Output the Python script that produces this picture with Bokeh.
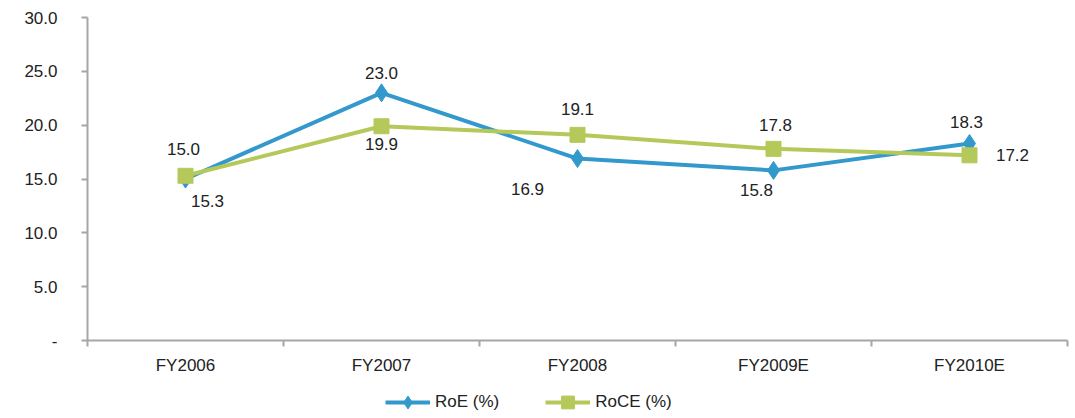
from bokeh.plotting import figure
from bokeh.layouts import column
from bokeh.models import ColumnDataSource, FixedTicker, Range1d, Legend, LegendItem
from bokeh.embed import file_html
from bokeh.resources import INLINE
from bokeh.core.properties import value

categories = ["FY2006", "FY2007", "FY2008", "FY2009E", "FY2010E"]
roe = [15.0, 23.0, 16.9, 15.8, 18.3]
roce = [15.3, 19.9, 19.1, 17.8, 17.2]
y_ticks = [0, 5, 10, 15, 20, 25, 30]

# label offsets (pixels, screen direction): style only
roe_dx = [-2, 0, -50, -17, -3]
roe_dy = [-30, -20, 30, 20, -21]
roce_dx = [22, 0, 0, 2, 43]
roce_dy = [25, 18, -26, -24, 0]

BLUE = "#3399CC"
GREEN = "#B5C95A"
AXIS = "#A6A6A6"
TXT = "#222222"
FONT = "Liberation Sans"
FS = "17px"

xs = [i + 0.5 for i in range(len(categories))]

p = figure(width=1075, height=380, output_backend="svg", toolbar_location=None,
           x_range=Range1d(0, len(categories)), y_range=Range1d(0, 30),
           min_border_left=87, min_border_right=8, min_border_top=17,
           min_border_bottom=40)
p.outline_line_color = None
p.xgrid.grid_line_color = None
p.ygrid.grid_line_color = None

s_roe = ColumnDataSource(dict(x=xs, y=roe, t=["%.1f" % v for v in roe], dx=roe_dx, dy=roe_dy))
s_roce = ColumnDataSource(dict(x=xs, y=roce, t=["%.1f" % v for v in roce], dx=roce_dx, dy=roce_dy))

p.line("x", "y", source=s_roe, line_color=BLUE, line_width=4)
p.scatter("x", "y", source=s_roe, marker="diamond", size=18, fill_color=BLUE, line_color=BLUE)
p.line("x", "y", source=s_roce, line_color=GREEN, line_width=4)
p.scatter("x", "y", source=s_roce, marker="square", size=15, fill_color=GREEN, line_color=GREEN)

for s in (s_roe, s_roce):
    p.text("x", "y", text="t", source=s, x_offset="dx", y_offset="dy",
           text_align="center", text_baseline="middle", text_font=value(FONT),
           text_font_size=FS, text_color=TXT)

ya = p.yaxis[0]
ya.ticker = FixedTicker(ticks=y_ticks)
ya.major_label_overrides = {t: ("-" if t == 0 else "%.1f" % t) for t in y_ticks}
ya.minor_tick_line_color = None
ya.major_tick_out = 6
ya.major_tick_in = 0
ya.axis_line_color = AXIS
ya.axis_line_width = 2
ya.major_tick_line_color = AXIS
ya.major_tick_line_width = 2
ya.major_label_text_font = FONT
ya.major_label_text_font_size = FS
ya.major_label_text_color = TXT
ya.major_label_standoff = 24

xa = p.xaxis[0]
xa.ticker = FixedTicker(ticks=xs, minor_ticks=list(range(len(categories) + 1)))
xa.major_label_overrides = {x: c for x, c in zip(xs, categories)}
xa.major_tick_line_color = None
xa.minor_tick_out = 6
xa.minor_tick_in = 0
xa.minor_tick_line_color = AXIS
xa.minor_tick_line_width = 2
xa.axis_line_color = AXIS
xa.axis_line_width = 2
xa.major_label_text_font = FONT
xa.major_label_text_font_size = FS
xa.major_label_text_color = TXT
xa.major_label_standoff = 9

# legend strip below the chart (series drawn out of view; only legend shows)
q = figure(width=1075, height=38, output_backend="svg", toolbar_location=None,
           x_range=Range1d(-3, -2), y_range=Range1d(-3, -2),
           min_border=0)
q.axis.visible = False
q.grid.visible = False
q.outline_line_color = None
ql1 = q.line("x", "y", source=s_roe, line_color=BLUE, line_width=4)
qm1 = q.scatter("x", "y", source=s_roe, marker="diamond", size=18, fill_color=BLUE, line_color=BLUE)
ql2 = q.line("x", "y", source=s_roce, line_color=GREEN, line_width=4)
qm2 = q.scatter("x", "y", source=s_roce, marker="square", size=15, fill_color=GREEN, line_color=GREEN)
legend = Legend(items=[LegendItem(label="RoE (%)", renderers=[ql1, qm1]),
                       LegendItem(label="RoCE (%)", renderers=[ql2, qm2])],
                orientation="horizontal", location=(298, 0),
                label_text_font=FONT, label_text_font_size=FS, label_text_color=TXT,
                glyph_width=45, glyph_height=32, spacing=46, label_standoff=5,
                border_line_color=None, background_fill_alpha=0, padding=0, margin=0)
q.add_layout(legend, "center")

open("out.html", "w").write(file_html(column(p, q, spacing=0), INLINE))
